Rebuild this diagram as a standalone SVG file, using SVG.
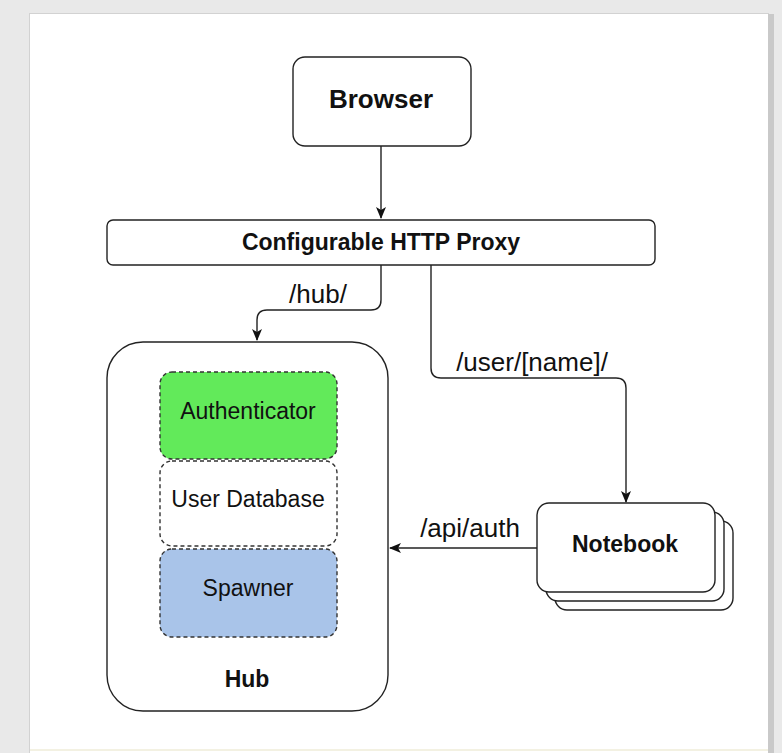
<svg xmlns="http://www.w3.org/2000/svg" width="782" height="753" viewBox="0 0 782 753">
  <defs>
    <marker id="arrow" viewBox="0 0 12 10" refX="11" refY="5" markerWidth="12" markerHeight="10" markerUnits="userSpaceOnUse" orient="auto">
      <path d="M0,0 L12,5 L0,10 L3,5 Z" fill="#111"/>
    </marker>
    <style>
      .box { fill: #ffffff; stroke: #222; stroke-width: 1.4; }
      .part { stroke: #333; stroke-width: 1.4; stroke-dasharray: 4 3; }
      .edge { fill: none; stroke: #222; stroke-width: 1.4; }
      .bold { font-family: "Liberation Sans", Arial, sans-serif; font-weight: bold; fill: #111; text-anchor: middle; }
      .reg { font-family: "Liberation Sans", Arial, sans-serif; fill: #111; text-anchor: middle; }
    </style>
  </defs>

  <!-- canvas and page -->
  <rect x="0" y="0" width="782" height="753" fill="#e9e9e9"/>
  <rect x="29.5" y="13.5" width="739" height="745" fill="#ffffff" stroke="#d2d2d2" stroke-width="1"/>
  <rect x="768" y="14" width="6" height="739" fill="#c9c9c9"/>
  <line x1="30" y1="750" x2="768" y2="750" stroke="#f3f1e2" stroke-width="2"/>

  <!-- connectors -->
  <g id="connectors">
    <path class="edge" d="M381,146 V218" marker-end="url(#arrow)"/>
    <path class="edge" d="M381,265 V300 Q381,310 371,310 H267 Q257,310 257,320 V340" marker-end="url(#arrow)"/>
    <path class="edge" d="M431,265 V368 Q431,378 441,378 H616 Q626,378 626,388 V502" marker-end="url(#arrow)"/>
    <path class="edge" d="M537,548 H390" marker-end="url(#arrow)"/>
    <text class="reg" x="318" y="303" font-size="26">/hub/</text>
    <text class="reg" x="532" y="371" font-size="26">/user/[name]/</text>
    <text class="reg" x="470" y="537" font-size="26">/api/auth</text>
  </g>

  <g id="browser">
    <rect class="box" x="293" y="57" width="178" height="89" rx="12"/>
    <text class="bold" x="381" y="108" font-size="26">Browser</text>
  </g>

  <g id="proxy">
    <rect class="box" x="107" y="220" width="548" height="45" rx="6"/>
    <text class="bold" x="381" y="250" font-size="23">Configurable HTTP Proxy</text>
  </g>

  <g id="hub">
    <rect class="box" x="107" y="342" width="281" height="369" rx="36"/>
    <text class="bold" x="247" y="687" font-size="23">Hub</text>
  </g>

  <g id="authenticator">
    <rect class="part" x="160" y="372" width="177" height="87" rx="12" fill="#62ea5a"/>
    <text class="reg" x="248" y="419" font-size="23">Authenticator</text>
  </g>

  <g id="user-database">
    <rect class="part" x="160" y="461" width="177" height="85" rx="12" fill="#ffffff"/>
    <text class="reg" x="248" y="507" font-size="23">User Database</text>
  </g>

  <g id="spawner">
    <rect class="part" x="160" y="549" width="177" height="88" rx="12" fill="#a9c4e9"/>
    <text class="reg" x="248" y="596" font-size="23">Spawner</text>
  </g>

  <g id="notebook">
    <rect class="box" x="555" y="521" width="178" height="89" rx="12"/>
    <rect class="box" x="546" y="512" width="178" height="89" rx="12"/>
    <rect class="box" x="537" y="503" width="178" height="89" rx="12"/>
    <text class="bold" x="625" y="552" font-size="23">Notebook</text>
  </g>
</svg>
